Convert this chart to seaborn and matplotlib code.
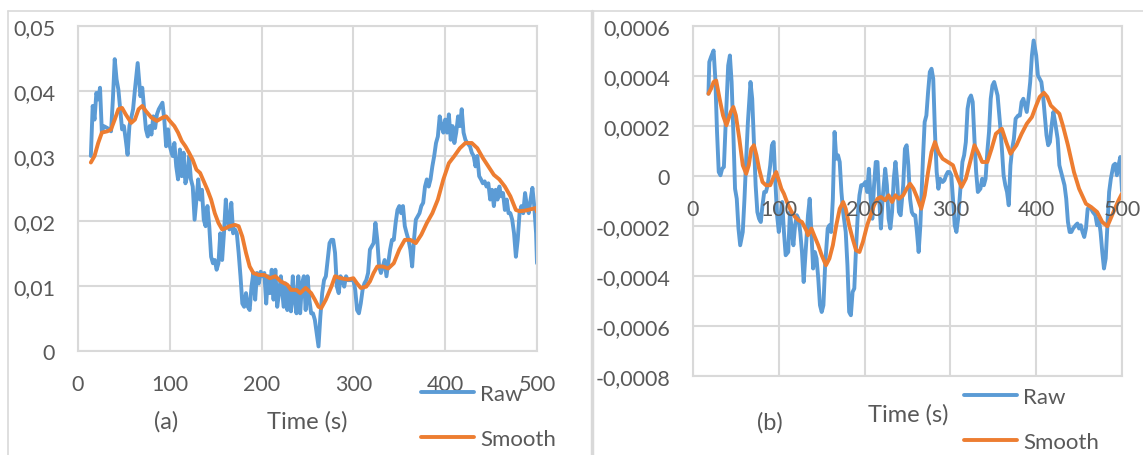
import numpy as np
import matplotlib
matplotlib.use("Agg")
import matplotlib.pyplot as plt
import seaborn as sns
from matplotlib.lines import Line2D

# ---- data ----
# panel (a): raw signal
t_raw_a = [14, 16, 18, 20, 22, 24, 26, 28, 32, 36,
           38, 40, 42, 44, 46, 48, 50, 52, 54, 56,
           60, 62, 65, 68, 70, 72, 74, 76, 78, 80,
           82, 84, 86, 88, 90, 92, 94, 96, 98, 100,
           103, 105, 107, 109, 111, 113, 115, 117, 119, 121,
           123, 125, 127, 129, 131, 133, 135, 137, 139, 141,
           143, 145, 147, 149, 151, 153, 155, 157, 159, 161,
           163, 165, 167, 169, 171, 173, 175, 177, 179, 181,
           183, 185, 187, 189, 191, 193, 195, 197, 199, 201,
           203, 205, 207, 209, 211, 213, 215, 217, 219, 221,
           224, 226, 228, 230, 232, 234, 236, 238, 240, 242,
           244, 246, 248, 250, 252, 254, 256, 258, 260, 262,
           264, 266, 268, 270, 272, 274, 276, 278, 280, 282,
           284, 286, 288, 290, 292, 294, 298, 300, 302, 304,
           306, 308, 310, 312, 314, 316, 318, 320, 322, 324,
           326, 328, 330, 332, 334, 336, 338, 340, 342, 344,
           346, 348, 350, 352, 354, 356, 358, 360, 362, 364,
           366, 368, 370, 372, 374, 376, 378, 380, 382, 384,
           386, 388, 390, 392, 394, 396, 398, 400, 402, 404,
           406, 408, 410, 412, 414, 416, 418, 420, 422, 424,
           427, 429, 431, 433, 435, 437, 439, 441, 443, 445,
           447, 449, 451, 453, 455, 457, 459, 461, 463, 465,
           467, 469, 471, 473, 475, 477, 479, 481, 483, 485,
           487, 489, 491, 493, 495, 497, 499, 500]
raw_a = [.0300, .0377, .0356, .0397, .0387, .0405, .0336, .0346, .0343, .0338,
         .0387, .0449, .0418, .0402, .0372, .0341, .0346, .0325, .0302, .0346,
         .0372, .0402, .0443, .0392, .0405, .0372, .0341, .0330, .0346, .0333,
         .0361, .0343, .0364, .0372, .0377, .0382, .0356, .0315, .0341, .0315,
         .0300, .0320, .0284, .0264, .0310, .0269, .0305, .0258, .0269, .0300,
         .0264, .0253, .0202, .0233, .0264, .0233, .0248, .0202, .0192, .0223,
         .0192, .0145, .0135, .0140, .0125, .0135, .0181, .0140, .0181, .0233,
         .0202, .0187, .0228, .0181, .0187, .0181, .0151, .0115, .0073, .0068,
         .0089, .0068, .0063, .0099, .0120, .0079, .0120, .0104, .0122, .0115,
         .0120, .0073, .0115, .0089, .0125, .0079, .0125, .0068, .0089, .0115,
         .0068, .0104, .0063, .0099, .0061, .0115, .0079, .0058, .0115, .0058,
         .0104, .0115, .0063, .0115, .0079, .0058, .0058, .0048, .0027, .0007,
         .0053, .0089, .0109, .0115, .0140, .0166, .0171, .0171, .0151, .0099,
         .0089, .0115, .0109, .0099, .0115, .0109, .0109, .0109, .0094, .0063,
         .0058, .0073, .0094, .0104, .0109, .0120, .0156, .0161, .0166, .0197,
         .0171, .0130, .0120, .0130, .0140, .0115, .0135, .0156, .0171, .0171,
         .0197, .0217, .0223, .0212, .0223, .0192, .0181, .0171, .0156, .0130,
         .0171, .0202, .0207, .0212, .0223, .0228, .0253, .0264, .0253, .0264,
         .0284, .0300, .0320, .0330, .0361, .0346, .0336, .0356, .0336, .0364,
         .0325, .0346, .0320, .0336, .0361, .0346, .0372, .0336, .0325, .0320,
         .0315, .0305, .0300, .0284, .0300, .0269, .0264, .0258, .0261, .0253,
         .0258, .0233, .0248, .0223, .0248, .0233, .0253, .0238, .0243, .0217,
         .0233, .0212, .0212, .0202, .0181, .0145, .0171, .0212, .0223, .0212,
         .0243, .0223, .0212, .0233, .0251, .0223, .0181, .0135]

# panel (a): smoothed signal
t_smooth_a = [14, 18, 22, 26, 32, 36, 40, 44, 48, 52,
              58, 62, 66, 70, 74, 80, 86, 92, 96, 100,
              105, 109, 113, 117, 121, 125, 129, 133, 137, 141,
              145, 149, 153, 157, 161, 165, 171, 175, 179, 183,
              187, 191, 197, 203, 209, 215, 221, 228, 232, 238,
              242, 248, 254, 258, 262, 265, 270, 276, 280, 286,
              294, 300, 304, 308, 314, 318, 322, 326, 332, 338,
              344, 350, 356, 362, 368, 374, 380, 386, 392, 398,
              404, 410, 416, 422, 429, 435, 441, 447, 453, 459,
              465, 471, 477, 481, 487, 493, 499, 500]
smooth_a = [.0290, .0300, .0320, .0336, .0338, .0341, .0356, .0372, .0374, .0364,
            .0351, .0356, .0372, .0377, .0369, .0359, .0354, .0359, .0361, .0354,
            .0346, .0336, .0323, .0315, .0305, .0294, .0279, .0274, .0261, .0248,
            .0233, .0212, .0197, .0187, .0189, .0192, .0194, .0192, .0176, .0151,
            .0130, .0120, .0117, .0117, .0112, .0115, .0107, .0102, .0094, .0094,
            .0089, .0097, .0089, .0079, .0068, .0066, .0079, .0099, .0115, .0112,
            .0110, .0112, .0104, .0097, .0099, .0107, .0120, .0130, .0130, .0127,
            .0135, .0156, .0171, .0171, .0166, .0179, .0197, .0212, .0233, .0264,
            .0289, .0300, .0312, .0320, .0320, .0312, .0297, .0284, .0271, .0264,
            .0253, .0238, .0217, .0215, .0216, .0218, .0220, .0214]

# panel (b): raw signal
t_raw_b = [18, 19, 21, 24, 26, 28, 30, 32, 34, 36,
           38, 41, 43, 45, 47, 49, 51, 53, 55, 58,
           60, 62, 64, 67, 69, 71, 73, 75, 77, 79,
           81, 83, 85, 87, 90, 92, 94, 96, 98, 100,
           102, 104, 106, 108, 111, 113, 115, 117, 119, 121,
           123, 125, 127, 129, 131, 134, 136, 138, 140, 142,
           144, 146, 148, 150, 152, 154, 157, 159, 161, 163,
           165, 167, 169, 171, 173, 175, 178, 180, 182, 184,
           186, 188, 190, 192, 194, 196, 198, 201, 203, 205,
           207, 209, 211, 213, 215, 217, 219, 221, 224, 226,
           228, 230, 232, 234, 236, 238, 240, 242, 245, 247,
           249, 251, 253, 255, 257, 259, 261, 263, 265, 268,
           270, 272, 274, 276, 278, 280, 282, 284, 286, 288,
           291, 293, 295, 297, 299, 301, 303, 305, 307, 309,
           312, 314, 316, 318, 320, 322, 324, 326, 328, 330,
           332, 335, 337, 339, 341, 343, 345, 347, 349, 351,
           353, 355, 358, 360, 362, 364, 366, 368, 370, 372,
           374, 376, 379, 381, 383, 385, 387, 389, 391, 393,
           395, 397, 400, 402, 404, 406, 408, 410, 412, 414,
           416, 418, 420, 422, 425, 427, 429, 431, 433, 435,
           437, 439, 441, 443, 446, 448, 450, 452, 454, 456,
           458, 460, 462, 464, 466, 469, 471, 473, 475, 477,
           479, 481, 483, 485, 487, 490, 492, 494, 496, 498,
           500]
raw_b = [3.29e-4, 4.56e-4, 4.76e-4, 5.02e-4, 3.89e-4, 1.76e-4, 0.16e-4, 0.03e-4, 0.29e-4, 0.36e-4,
         2.03e-4, 4.42e-4, 4.82e-4, 3.76e-4, 1.76e-4, -0.51e-4, -0.91e-4, -2.10e-4, -2.77e-4, -2.24e-4,
         -0.91e-4, 0.69e-4, 2.16e-4, 3.76e-4, 3.09e-4, 1.36e-4, -0.37e-4, -1.44e-4, -1.71e-4, -1.84e-4,
         -1.17e-4, -0.64e-4, -0.64e-4, -0.37e-4, 0.43e-4, 1.23e-4, 1.36e-4, -0.24e-4, -1.57e-4, -2.24e-4,
         -1.57e-4, -1.04e-4, -2.24e-4, -3.17e-4, -3.04e-4, -1.44e-4, -2.10e-4, -2.77e-4, -1.97e-4, -1.57e-4,
         -1.71e-4, -2.24e-4, -3.04e-4, -4.24e-4, -3.17e-4, -1.57e-4, -0.91e-4, -2.24e-4, -3.70e-4, -3.04e-4,
         -3.30e-4, -4.10e-4, -5.17e-4, -5.44e-4, -5.17e-4, -3.57e-4, -2.10e-4, -1.97e-4, -2.24e-4, -0.91e-4,
         1.76e-4, 0.69e-4, 0.83e-4, 0.56e-4, -0.64e-4, -1.44e-4, -2.24e-4, -3.57e-4, -5.44e-4, -5.57e-4,
         -4.64e-4, -4.50e-4, -2.90e-4, -1.57e-4, -0.77e-4, -0.37e-4, -0.37e-4, -0.24e-4, -0.64e-4, 0.29e-4,
         -0.91e-4, -1.71e-4, -0.37e-4, 0.56e-4, 0.56e-4, -0.91e-4, -2.10e-4, -0.91e-4, 0.29e-4, -0.37e-4,
         -1.71e-4, -2.10e-4, -1.44e-4, -0.11e-4, 0.56e-4, -0.24e-4, -1.44e-4, -1.57e-4, -0.37e-4, 1.09e-4,
         1.23e-4, 0.43e-4, -0.91e-4, -1.44e-4, -1.57e-4, -1.57e-4, -2.24e-4, -3.04e-4, -1.97e-4, 0.69e-4,
         2.16e-4, 2.42e-4, 3.36e-4, 4.16e-4, 4.29e-4, 3.89e-4, 1.76e-4, 0.16e-4, -0.51e-4, -0.11e-4,
         -0.24e-4, -0.17e-4, 0.03e-4, 0.16e-4, 0.16e-4, 0.03e-4, -0.91e-4, -1.97e-4, -2.24e-4, -1.71e-4,
         -0.37e-4, 0.56e-4, 0.83e-4, 1.36e-4, 2.69e-4, 3.09e-4, 3.22e-4, 2.96e-4, 1.49e-4, 0.16e-4,
         -0.64e-4, -0.51e-4, -0.11e-4, -0.37e-4, -0.11e-4, 0.96e-4, 1.76e-4, 3.09e-4, 3.62e-4, 3.76e-4,
         3.49e-4, 3.22e-4, 2.03e-4, 1.09e-4, 0.03e-4, -0.37e-4, -0.64e-4, -1.17e-4, 0.43e-4, 1.09e-4,
         1.49e-4, 2.29e-4, 2.42e-4, 2.42e-4, 2.96e-4, 3.09e-4, 2.82e-4, 2.56e-4, 3.09e-4, 3.76e-4,
         4.82e-4, 5.42e-4, 4.82e-4, 4.02e-4, 3.89e-4, 3.76e-4, 3.22e-4, 2.42e-4, 1.63e-4, 1.23e-4,
         1.36e-4, 2.03e-4, 2.56e-4, 2.16e-4, 1.49e-4, 0.43e-4, 0.16e-4, -0.11e-4, -0.37e-4, -0.91e-4,
         -1.84e-4, -2.24e-4, -2.24e-4, -2.10e-4, -1.97e-4, -1.90e-4, -2.10e-4, -1.97e-4, -2.24e-4, -2.44e-4,
         -2.10e-4, -1.31e-4, -1.24e-4, -1.31e-4, -1.44e-4, -1.57e-4, -1.97e-4, -1.71e-4, -2.24e-4, -3.04e-4,
         -3.70e-4, -3.30e-4, -1.97e-4, -0.64e-4, -0.11e-4, 0.43e-4, 0.49e-4, 0.03e-4, 0.43e-4, 0.76e-4,
         -0.60e-4]

# panel (b): smoothed signal
t_smooth_b = [18, 21, 24, 27, 31, 35, 39, 44, 47, 50,
              54, 58, 62, 65, 68, 71, 74, 77, 81, 85,
              90, 94, 97, 100, 103, 106, 111, 115, 119, 123,
              127, 132, 134, 138, 142, 146, 150, 155, 159, 163,
              167, 171, 175, 178, 182, 186, 190, 194, 198, 203,
              207, 211, 215, 219, 224, 228, 232, 236, 240, 245,
              249, 253, 257, 261, 266, 270, 274, 278, 282, 286,
              291, 297, 303, 307, 313, 318, 323, 328, 333, 337,
              343, 348, 353, 360, 365, 370, 377, 383, 389, 395,
              400, 404, 409, 413, 417, 423, 427, 431, 437, 444,
              450, 458, 464, 471, 477, 483, 490, 496, 500]
smooth_b = [3.29e-4, 3.49e-4, 3.76e-4, 3.82e-4, 3.09e-4, 2.42e-4, 2.03e-4, 2.56e-4, 2.76e-4, 2.42e-4,
            1.49e-4, 0.43e-4, 0.09e-4, 0.43e-4, 1.09e-4, 1.23e-4, 0.83e-4, 0.29e-4, -0.24e-4, -0.37e-4,
            -0.37e-4, -0.04e-4, 0.16e-4, -0.17e-4, -0.51e-4, -0.71e-4, -1.17e-4, -1.44e-4, -1.64e-4, -1.77e-4,
            -1.84e-4, -2.17e-4, -2.37e-4, -2.10e-4, -2.44e-4, -2.77e-4, -3.17e-4, -3.57e-4, -3.30e-4, -2.77e-4,
            -1.97e-4, -1.31e-4, -1.04e-4, -1.31e-4, -1.97e-4, -2.50e-4, -2.97e-4, -3.04e-4, -2.64e-4, -1.97e-4,
            -1.57e-4, -1.17e-4, -0.91e-4, -0.84e-4, -0.97e-4, -0.77e-4, -1.04e-4, -0.77e-4, -0.91e-4, -0.77e-4,
            -0.51e-4, -0.31e-4, -0.51e-4, -0.84e-4, -1.31e-4, -0.77e-4, 0.16e-4, 0.96e-4, 1.36e-4, 0.96e-4,
            0.69e-4, 0.56e-4, 0.43e-4, 0.03e-4, -0.44e-4, -0.11e-4, 0.56e-4, 1.23e-4, 0.89e-4, 0.56e-4,
            0.56e-4, 1.09e-4, 1.69e-4, 1.89e-4, 1.36e-4, 0.89e-4, 1.23e-4, 1.69e-4, 2.09e-4, 2.36e-4,
            2.82e-4, 3.16e-4, 3.33e-4, 3.16e-4, 2.82e-4, 2.62e-4, 2.49e-4, 2.03e-4, 1.23e-4, 0.16e-4,
            -0.51e-4, -1.11e-4, -1.24e-4, -1.44e-4, -1.84e-4, -2.01e-4, -1.44e-4, -0.97e-4, -0.70e-4]

x_ticks = [0, 100, 200, 300, 400, 500]
y_ticks_a = [0, 0.01, 0.02, 0.03, 0.04, 0.05]
y_labels_a = ["0", "0,01", "0,02", "0,03", "0,04", "0,05"]
y_ticks_b = [-0.0008, -0.0006, -0.0004, -0.0002, 0, 0.0002, 0.0004, 0.0006]
y_labels_b = ["-0,0008", "-0,0006", "-0,0004", "-0,0002", "0", "0,0002", "0,0004", "0,0006"]
series_names = ["Raw", "Smooth"]

# ---- style ----
sns.set_style("white")
plt.rcParams['font.family'] = ['Lato', 'DejaVu Sans']
BLUE = "#5B9BD5"
ORANGE = "#ED7D31"
GRID = "#D9D9D9"
TXT = "#595959"
FS = 15.5
LW = 2.8
W, H = 1143, 456

fig = plt.figure(figsize=(W / 100, H / 100), dpi=100)


def px_axes(x0, y0, x1, y1):
    return fig.add_axes([x0 / W, 1 - y1 / H, (x1 - x0) / W, (y1 - y0) / H])


def style_axes(ax, yticks, ylabels, ylim):
    ax.set_xlim(0, 500)
    ax.set_ylim(*ylim)
    ax.set_xticks(x_ticks)
    ax.set_yticks(yticks)
    ax.set_yticklabels(ylabels)
    ax.grid(True, color=GRID, lw=1.5)
    ax.set_axisbelow(True)
    for s in ax.spines.values():
        s.set_visible(True)
        s.set_color(GRID)
        s.set_linewidth(1.5)
    ax.tick_params(length=0, colors=TXT, labelsize=FS)
    ax.tick_params(axis='y', pad=16.5)
    ax.set_xlabel("")
    ax.set_ylabel("")


# panel (a)
ax1 = px_axes(78, 27, 537, 352)
sns.lineplot(x=t_raw_a, y=raw_a, ax=ax1, color=BLUE, lw=LW, sort=False, legend=False)
sns.lineplot(x=t_smooth_a, y=smooth_a, ax=ax1, color=ORANGE, lw=LW, sort=False, legend=False)
style_axes(ax1, y_ticks_a, y_labels_a, (0, 0.05))
ax1.tick_params(axis='x', pad=16.5)

# panel (b)
ax2 = px_axes(693, 27, 1122, 377)
sns.lineplot(x=t_raw_b, y=raw_b, ax=ax2, color=BLUE, lw=LW, sort=False, legend=False)
sns.lineplot(x=t_smooth_b, y=smooth_b, ax=ax2, color=ORANGE, lw=LW, sort=False, legend=False)
style_axes(ax2, y_ticks_b, y_labels_b, (-0.0008, 0.0006))
ax2.tick_params(axis='x', labelbottom=False)

# x labels hang from the zero line, drawn over the data (transparent overlay axes)
ax3 = px_axes(693, 27, 1122, 377)
ax3.patch.set_visible(False)
ax3.set_xlim(0, 500)
ax3.set_ylim(-0.0008, 0.0006)
ax3.set_xticks(x_ticks)
ax3.set_yticks([])
ax3.grid(False)
for s in ax3.spines.values():
    s.set_visible(False)
ax3.spines['bottom'].set_position(('data', 0))
ax3.tick_params(axis='x', length=0, colors=TXT, labelsize=FS, pad=16.5)

# axis titles / panel letters
fig.text(307 / W, 1 - 422 / H, "Time (s)", ha="center", va="center", fontsize=FS + 1.5, color=TXT)
fig.text(166 / W, 1 - 422 / H, "(a)", ha="center", va="center", fontsize=FS + 1.5, color=TXT)
fig.text(908 / W, 1 - 415 / H, "Time (s)", ha="center", va="center", fontsize=FS + 1.5, color=TXT)
fig.text(770 / W, 1 - 423 / H, "(b)", ha="center", va="center", fontsize=FS + 1.5, color=TXT)

# legends
handles = [Line2D([], [], color=BLUE, lw=LW), Line2D([], [], color=ORANGE, lw=LW)]
for x0, y0 in [(421, 385), (964, 388)]:
    leg = fig.legend(handles, series_names, loc="upper left",
                     bbox_to_anchor=(x0 / W, 1 - y0 / H), bbox_transform=fig.transFigure,
                     frameon=False, fontsize=FS + 0.5, handlelength=2.4, handletextpad=0.25,
                     labelspacing=1.12, borderpad=0, borderaxespad=0)
    for txt in leg.get_texts():
        txt.set_color(TXT)

# chart frames
fig.add_artist(Line2D([8 / W, 1], [1 - 12 / H, 1 - 12 / H], color=GRID, lw=1.2))
fig.add_artist(Line2D([8 / W, 8 / W], [0, 1 - 12 / H], color=GRID, lw=1.2))
fig.add_artist(Line2D([591.5 / W, 591.5 / W], [0, 1 - 12 / H], color=GRID, lw=2.5))

fig.savefig("out.png", dpi=100)
